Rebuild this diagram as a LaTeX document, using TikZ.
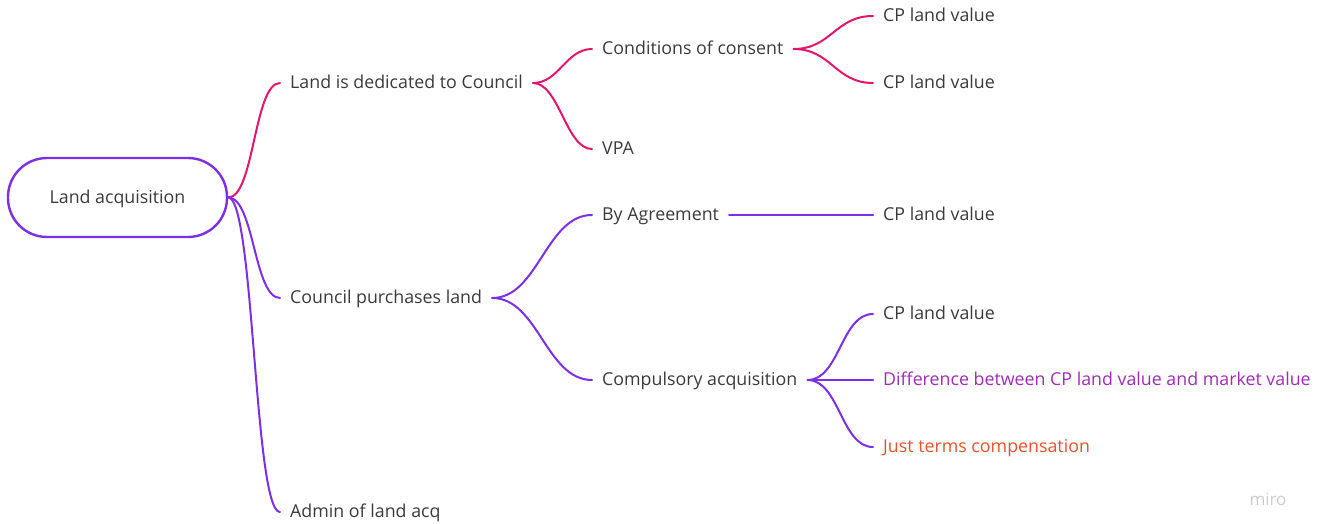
\documentclass[tikz,border=0pt]{standalone}
\usepackage{fontspec}
\setmainfont{Open Sans}
\definecolor{mmpink}{HTML}{E2166B}
\definecolor{mmpurple}{HTML}{7B30E6}
\definecolor{mmtext}{HTML}{3A3A3A}
\definecolor{mmdiff}{HTML}{9C2FB0}
\definecolor{mmjust}{HTML}{E5532D}
\definecolor{mmlogo}{HTML}{CBCBD0}

\begin{document}
\begin{tikzpicture}
[x=1pt,y=-1pt,
font=\fontsize{17.8}{21}\selectfont,
topic/.style={draw=mmpurple,line width=2.4pt,rounded corners=39pt,minimum width=219pt,minimum height=79pt,
  text height=12.7pt,text depth=0pt,text=mmtext},
leaf/.style={anchor=west,inner xsep=10pt,inner ysep=0pt,text height=11pt,text depth=0pt,text=mmtext},
pinkedge/.style={draw=mmpink,line width=2pt,line cap=round},
purpedge/.style={draw=mmpurple,line width=2pt,line cap=round}]

\useasboundingbox (0,0) rectangle (1325,524);

% central topic
\node[topic] (root) at (117.5,197.5) {Land acquisition};

% first level
\node[leaf] (ded) at (280,83) {Land is dedicated to Council};
\node[leaf] (purch) at (280,298) {Council purchases land};
\node[leaf] (admin) at (280,512) {Admin of land acq};

% second level
\node[leaf] (cond) at (592,49) {Conditions of consent};
\node[leaf] (vpa) at (592,149) {VPA};
\node[leaf] (agree) at (592,215) {By Agreement};
\node[leaf] (comp) at (592,380) {Compulsory acquisition};

% third level
\node[leaf] (cpa) at (873,16) {CP land value};
\node[leaf] (cpb) at (873,83) {CP land value};
\node[leaf] (cpc) at (873,215) {CP land value};
\node[leaf] (cpd) at (873,314) {CP land value};
\node[leaf,text=mmdiff] (diff) at (873,380) {Difference between CP land value and market value};
\node[leaf,text=mmjust] (just) at (873,447) {Just terms compensation};

% branches
\draw[pinkedge] (root.east) .. controls +(26,0) and +(-26,0) .. (ded.west);
\foreach \c in {purch,admin}
\draw[purpedge] (root.east) .. controls +(26,0) and +(-26,0) .. (\c.west);
\foreach \c in {cond,vpa}
\draw[pinkedge] (ded.east) .. controls +(26,0) and +(-26,0) .. (\c.west);
\foreach \c in {cpa,cpb}
\draw[pinkedge] (cond.east) .. controls +(38,0) and +(-38,0) .. (\c.west);
\foreach \c in {agree,comp}
\draw[purpedge] (purch.east) .. controls +(46,0) and +(-46,0) .. (\c.west);
\draw[purpedge] (agree.east) -- (cpc.west);
\foreach \c in {cpd,diff,just}
\draw[purpedge] (comp.east) .. controls +(32,0) and +(-32,0) .. (\c.west);

% logo
\node[text=mmlogo,font=\fontsize{17}{20}\selectfont] (logo) at (1268,499) {miro};
\end{tikzpicture}
\end{document}
